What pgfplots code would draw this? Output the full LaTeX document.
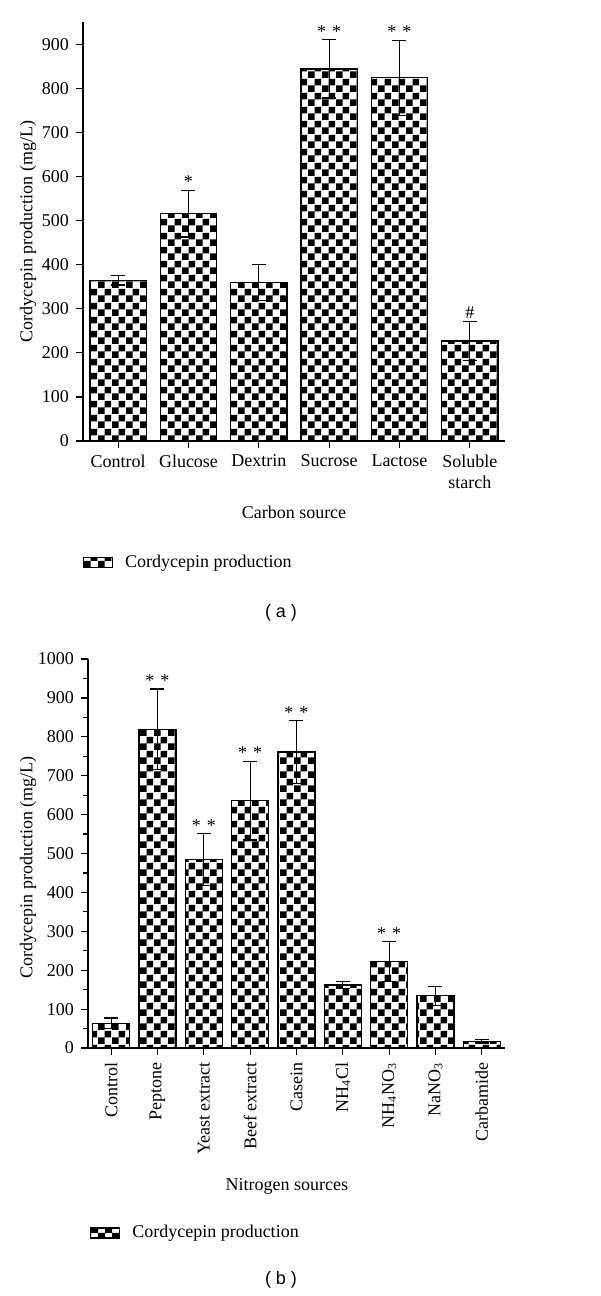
\documentclass[border=0pt]{standalone}
\usepackage{fontspec}
\setmainfont{Liberation Serif}
\newfontfamily\sansf{Liberation Sans}
\usepackage{pgfplots}
\usepackage{pgfplotstable}
\pgfplotsset{compat=1.18}
\usetikzlibrary{patterns}
\pgfdeclarepatternformonly{bigchecker}{\pgfpointorigin}{\pgfqpoint{7pt}{7pt}}{\pgfqpoint{7pt}{7pt}}{%
  \pgfpathrectangle{\pgfpointorigin}{\pgfqpoint{3.5pt}{3.5pt}}%
  \pgfpathrectangle{\pgfqpoint{3.5pt}{3.5pt}}{\pgfqpoint{3.5pt}{3.5pt}}%
  \pgfusepath{fill}}
\newcommand{\fs}{\fontsize{9}{10.5}\selectfont}

\pgfplotstableread{
x y e
0 365 11
1 516 53
2 359 41
3 844 66
4 824 85
5 227 45
}\carbon

\pgfplotstableread{
x y e
0 64 13
1 819 104
2 484 67
3 636 101
4 761 81
5 162 8
6 222 52
7 134 24
8 17 4
}\nitrogen

\pgfplotsset{
  mystyle/.style={
    scale only axis,
    axis lines=left,
    axis line style={-, line width=0.8pt},
    tick style={black, line width=0.6pt},
    tick align=outside,
    major tick length=3.5pt,
    minor tick length=2.5pt,
    xtick pos=bottom, ytick pos=left,
    tick label style={font=\fs},
    label style={font=\fs},
    legend style={font=\fs, draw=none, fill=none, inner sep=0pt, outer sep=0pt, legend cell align=left},
    /pgf/number format/assume math mode=true,
    /pgf/number format/1000 sep={},
    clip=false,
  },
  barstyle/.style={
    ybar, bar width=0.8, draw=black, line width=0.6pt, pattern=bigchecker,
    legend image code/.code={\draw[pattern=bigchecker, draw=black, line width=0.6pt] (0pt,-2.5pt) rectangle (14.5pt,2.5pt); \path (18.5pt,0pt);},
    error bars/y dir=both, error bars/y explicit,
    error bars/error bar style={line width=0.6pt, black},
    error bars/error mark options={rotate=90, mark size=3.5pt, line width=0.6pt, black},
  },
}

\begin{document}
\begin{tikzpicture}[font=\fs]
\path (0,0) rectangle (300pt,-648pt);
% ---------- (a) ----------
\begin{axis}[mystyle,
  at={(41.5pt,-220.5pt)}, anchor=south west,
  width=211pt, height=209.4pt,
  xmin=-0.5, xmax=5.5, ymin=0, ymax=950,
  xtick={0,...,5},
  xticklabels={Control,Glucose,Dextrin,Sucrose,Lactose,{Soluble\\starch}},
  xticklabel style={align=center},
  ytick={0,100,...,900},
  xlabel={Carbon source},
  xlabel style={at={(axis description cs:0.5,-0.1695)}, anchor=center},
  ylabel={Cordycepin production (mg/L)},
  ylabel style={at={(axis description cs:-0.130,0.5)}, anchor=center},
  legend style={at={(axis description cs:0,-0.291)}, anchor=west},
]
\addplot[barstyle] table[x=x, y=y, y error=e] {\carbon};
\addlegendentry{Cordycepin production}
\node[anchor=south, inner sep=1pt] at (axis cs:1,569) {*};
\node[anchor=south, inner sep=1pt] at (axis cs:3,910) {*\,\,*};
\node[anchor=south, inner sep=1pt] at (axis cs:4,909) {*\,\,*};
\node[anchor=south, inner sep=1pt] at (axis cs:5,272) {\#};
\end{axis}
\node[font=\sansf\fontsize{9}{10.5}\selectfont] at (140.5pt,-306.5pt) {( a )};
% ---------- (b) ----------
\begin{axis}[mystyle,
  at={(44pt,-524pt)}, anchor=south west,
  width=208.5pt, height=194.5pt,
  xmin=-0.5, xmax=8.5, ymin=0, ymax=1000,
  xtick={0,...,8},
  xticklabels={Control,Peptone,Yeast extract,Beef extract,Casein,NH\textsubscript{4}Cl,NH\textsubscript{4}NO\textsubscript{3},NaNO\textsubscript{3},Carbamide},
  xticklabel style={rotate=90, anchor=east},
  ytick={0,100,...,1000},
  minor y tick num=1,
  xlabel={Nitrogen sources},
  xlabel style={at={(axis description cs:0.477,-0.357)}, anchor=center},
  ylabel={Cordycepin production (mg/L)},
  ylabel style={at={(axis description cs:-0.144,0.465)}, anchor=center},
  legend style={at={(axis description cs:0.005,-0.4756)}, anchor=west},
]
\addplot[barstyle] table[x=x, y=y, y error=e] {\nitrogen};
\addlegendentry{Cordycepin production}
\node[anchor=south, inner sep=1pt] at (axis cs:1,923) {*\,\,*};
\node[anchor=south, inner sep=1pt] at (axis cs:2,551) {*\,\,*};
\node[anchor=south, inner sep=1pt] at (axis cs:3,737) {*\,\,*};
\node[anchor=south, inner sep=1pt] at (axis cs:4,842) {*\,\,*};
\node[anchor=south, inner sep=1pt] at (axis cs:6,274) {*\,\,*};
\end{axis}
\node[font=\sansf\fontsize{9}{10.5}\selectfont] at (140.5pt,-640pt) {( b )};
\end{tikzpicture}
\end{document}
